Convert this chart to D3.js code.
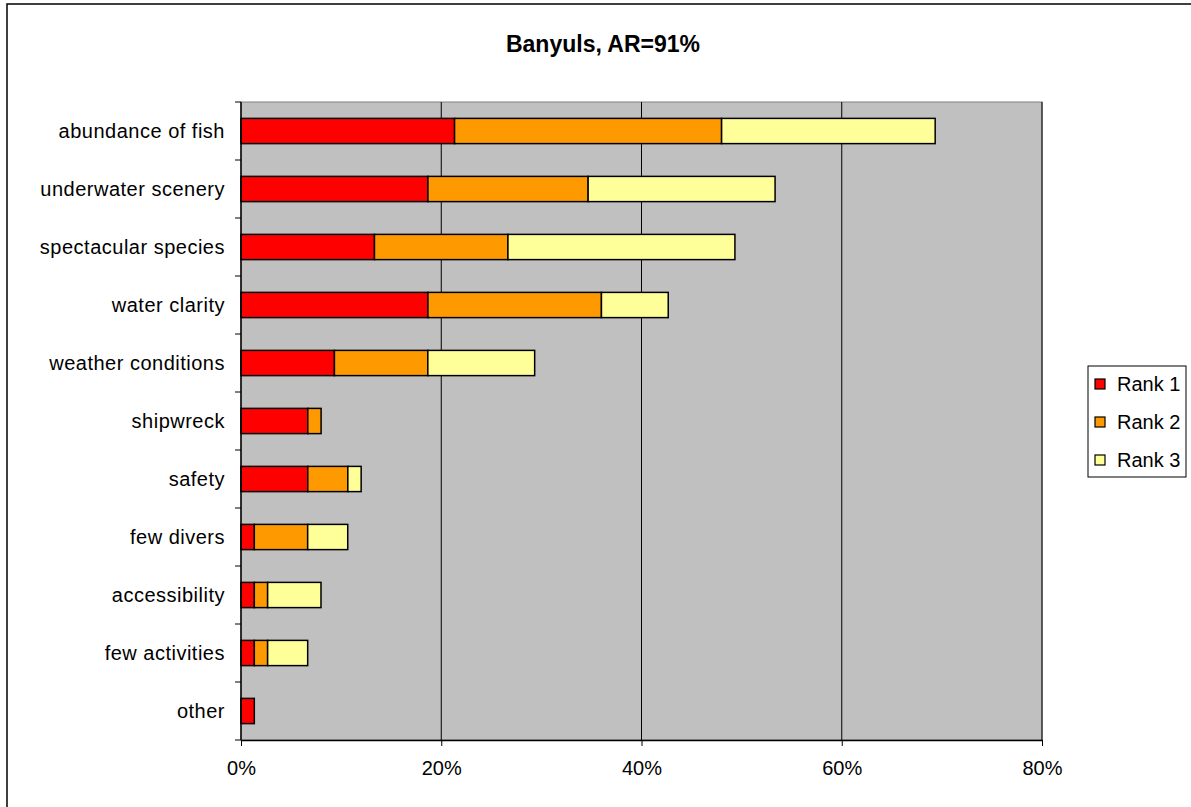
<!DOCTYPE html>
<html><head><meta charset="utf-8">
<script src="https://cdn.jsdelivr.net/npm/d3@7"></script>
<style>body{margin:0;background:#fff}svg{display:block}text{font-family:Arial,"Liberation Sans",sans-serif}</style>
</head><body><svg id="c" width="1191" height="807"></svg>
<script>
const categories = ["abundance of fish","underwater scenery","spectacular species","water clarity","weather conditions","shipwreck","safety","few divers","accessibility","few activities","other"];
const rank1 = [21.33,18.67,13.33,18.67,9.33,6.67,6.67,1.33,1.33,1.33,1.33];
const rank2 = [26.67,16.00,13.33,17.33,9.33,1.33,4.00,5.33,1.33,1.33,0];
const rank3 = [21.33,18.67,22.67,6.67,10.67,0,1.33,4.00,5.33,4.00,0];
const seriesNames = ["Rank 1","Rank 2","Rank 3"];
const colors = ["#FF0000","#FF9900","#FFFF99"];
const xTicks = [0,20,40,60,80];
const title = "Banyuls, AR=91%";

const svg = d3.select("#c");
const L=241, R=1042, T=102, B=740;
svg.append("rect").attr("x",7).attr("y",4).attr("width",1200).attr("height",820).attr("fill","#fff").attr("stroke","#000").attr("stroke-width",1.5);

const x = d3.scaleLinear().domain([0,80]).range([L,R]);
const y = d3.scaleBand().domain(categories).range([T,B]).paddingInner(0.565).paddingOuter(0.2825);
const yb = d3.scaleBand().domain(categories).range([T,B]);

svg.append("rect").attr("x",L).attr("y",T).attr("width",R-L).attr("height",B-T).attr("fill","#C0C0C0").attr("stroke","#808080").attr("stroke-width",1);

svg.append("g").selectAll("line").data(xTicks.slice(1)).join("line")
  .attr("x1",d=>x(d)).attr("x2",d=>x(d)).attr("y1",T).attr("y2",B).attr("stroke","#000").attr("stroke-width",1);

const data = categories.map((c,i)=>({cat:c, "Rank 1":rank1[i], "Rank 2":rank2[i], "Rank 3":rank3[i]}));
const stack = d3.stack().keys(seriesNames)(data);
svg.append("g").selectAll("g").data(stack).join("g").attr("fill",(d,i)=>colors[i])
  .selectAll("rect").data(d=>d.filter(e=>e[1]-e[0]>0)).join("rect")
  .attr("x",d=>x(d[0])).attr("width",d=>x(d[1])-x(d[0]))
  .attr("y",d=>y(d.data.cat)).attr("height",y.bandwidth())
  .attr("stroke","#000").attr("stroke-width",1.5);

const xAxis = d3.axisBottom(x).tickValues(xTicks).tickFormat(d=>d+"%").tickSize(6).tickSizeOuter(0);
const gx = svg.append("g").attr("transform",`translate(0,${B})`).call(xAxis);
gx.select(".domain").attr("stroke","#000").attr("stroke-width",1.5);
gx.selectAll(".tick line").attr("stroke","#000");
gx.selectAll("text").attr("font-size",20).attr("fill","#000").attr("dy","1.3em").attr("font-family","Arial, Liberation Sans");

const gy = svg.append("g").attr("transform",`translate(${L},0)`);
gy.append("line").attr("x1",0).attr("x2",0).attr("y1",T).attr("y2",B).attr("stroke","#000").attr("stroke-width",1.5);
gy.selectAll("line.t").data(categories.concat(["__end"])).join("line").attr("class","t")
  .attr("x1",-6).attr("x2",0)
  .attr("y1",(d,i)=>T+i*yb.step()).attr("y2",(d,i)=>T+i*yb.step()).attr("stroke","#000");
gy.selectAll("text").data(categories).join("text")
  .attr("x",-16).attr("y",d=>yb(d)+yb.bandwidth()/2).attr("dy","0.36em")
  .attr("text-anchor","end").attr("font-size",20).attr("letter-spacing","0.5px").attr("fill","#000").text(d=>d);

svg.append("text").attr("x",603).attr("y",52).attr("text-anchor","middle").attr("font-size",23).attr("font-weight","bold").text(title);

const lg = svg.append("g");
lg.append("rect").attr("x",1088).attr("y",366).attr("width",98).attr("height",111).attr("fill","#fff").attr("stroke","#000").attr("stroke-width",1);
const ly = d3.scalePoint().domain(seriesNames).range([384,460]);
seriesNames.forEach((s,i)=>{
  lg.append("rect").attr("x",1095).attr("y",ly(s)-5).attr("width",10).attr("height",10).attr("fill",colors[i]).attr("stroke","#000").attr("stroke-width",1.2);
  lg.append("text").attr("x",1117).attr("y",ly(s)).attr("dy","0.36em").attr("font-size",20).text(s);
});
</script></body></html>
